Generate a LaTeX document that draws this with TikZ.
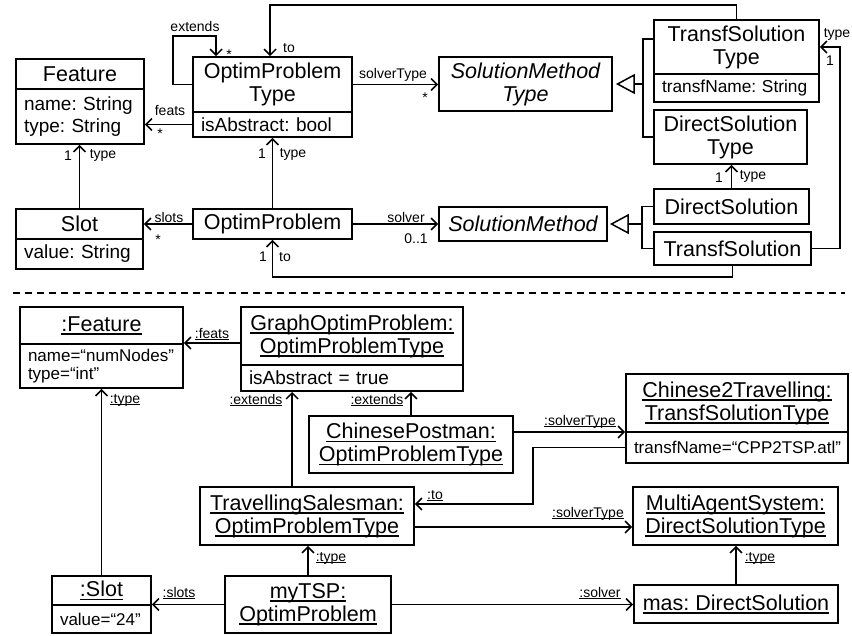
\documentclass[tikz,border=0pt]{standalone}
\usepackage{fontspec}
\setmainfont{Liberation Sans}
\usetikzlibrary{arrows.meta}

% font sizes (1pt = 1 unit of the drawing)
\newcommand\umlTitle{\fontsize{21.5}{23}\selectfont}
\newcommand\umlAttr{\fontsize{19}{22}\selectfont}
\newcommand\umlAttrS{\fontsize{17}{18}\selectfont}
\newcommand\umlLab{\fontsize{14}{16}\selectfont}

% underline with a rule scaled to the current font
\newcommand\umlUl[1]{\setbox0\hbox{#1}\rlap{\vrule width\wd0 height -0.1em depth 0.165em}\box0}

% \ubox[options]{name}{x1}{y1}{x2}{y2}{text}: a box given by its corners
\newcommand\ubox[7][]{%
  \pgfmathsetmacro\uboxw{#5-#3}%
  \pgfmathsetmacro\uboxh{#6-#4}%
  \pgfmathsetmacro\uboxt{#5-#3-16}%
  \node[box,minimum width=\uboxw pt,minimum height=\uboxh pt,#1] (#2) at ({(#3+#5)/2},{(#4+#6)/2}) {#7};}

\tikzset{
  box/.style={draw, line width=1.8pt, inner sep=0pt, align=center, font=\umlTitle},
  attr/.style={align=left, text width=\uboxt pt, inner xsep=8pt, font=\umlAttr},
  lab/.style={font=\umlLab, inner sep=0pt, anchor=base},
  assoc/.style={line width=1.5pt, -{Straight Barb[length=6pt,width=12pt]}},
  tree/.style={line width=1.5pt},
  gen/.style={line width=1.5pt, -{Triangle[open,length=19pt,width=20pt]}},
  sep/.style={line width=1.3pt, dash pattern=on 7pt off 5pt},
}

\begin{document}
\frenchspacing
\begin{tikzpicture}[x=1pt,y=-1pt]
\useasboundingbox (0,0) rectangle (852,635);

% ---------------- metamodel ----------------
\ubox{feath}{16}{59}{144}{89}{Feature}
\ubox[attr]{feata}{16}{89}{144}{144}{name: String\\type: String}
\ubox{opth}{193}{57}{352}{112}{OptimProblem\\Type}
\ubox[attr]{opta}{193}{112}{352}{137}{isAbstract: bool}
\ubox[font=\umlTitle\itshape]{smt}{439}{57}{612}{111}{SolutionMethod\\Type}
\ubox{tsth}{654}{20}{819}{74}{TransfSolution\\Type}
\ubox[attr,font=\fontsize{17.3}{20}\selectfont]{tsta}{654}{74}{819}{102}{transfName: String}
\ubox{dst}{654}{110}{807}{164}{DirectSolution\\Type}
\ubox{sloth}{16}{209}{143}{239}{Slot}
\ubox[attr]{slota}{16}{239}{143}{269}{value: String}
\ubox{op}{193}{209}{352}{239}{OptimProblem}
\ubox[font=\umlTitle\itshape]{sm}{439}{207}{607}{241}{SolutionMethod}
\ubox{ds}{654}{189}{809}{224}{DirectSolution}
\ubox{ts}{654}{232}{811}{265}{TransfSolution}

% associations
\draw[assoc] (opth.west) -| (173,36) -| ([xshift=24pt]opth.north west);
\node[lab] (lext) at (195,31.5) {extends};
\node[lab] (lextm) at (229,59) {*};

\draw[assoc] (tsth.north) -- ++(0,-14) -| ([xshift=78pt]opth.north west);
\node[lab] (lto1) at (289,52) {to};

\draw[assoc] (opth.east) -- (opth.east -| smt.west);
\node[lab] (lst) at (393,78) {solverType};
\node[lab] (lstm) at (425,102) {*};

\draw[assoc] (opta.west) -- (opta.west -| feata.east);
\node[lab] (lfeats) at (170,115) {feats};
\node[lab] (lfeatsm) at (160,138) {*};

\draw[assoc] (ts.east) -- ++(28,0) |- (tsth.east);
\node[lab] (ltt) at (837,37) {type};
\node[lab] (ltt1) at (830,65) {1};

\draw[assoc] (ds.north) -- (ds.north |- dst.south);
\node[lab] (ldt1) at (719,182) {1};
\node[lab] (ldt) at (753,179) {type};

\draw[assoc] (op.north) -- (op.north |- opta.south);
\node[lab] (lot1) at (262,158) {1};
\node[lab] (lot) at (293,157) {type};

\draw[assoc] (sloth.north) -- (sloth.north |- feata.south);
\node[lab] (lsf1) at (68,160) {1};
\node[lab] (lsf) at (103,158) {type};

\draw[assoc] (op.west) -- (op.west -| sloth.east);
\node[lab] (lslots) at (169,222) {slots};
\node[lab] (lslotsm) at (158,244) {*};

\draw[assoc] (op.east) -- (op.east -| sm.west);
\node[lab] (lsolver) at (406,222) {solver};
\node[lab] (lsolverm) at (416,243) {0..1};

\draw[assoc] (ts.south) -- ++(0,11) -| (op.south);
\node[lab] (lto21) at (263,261) {1};
\node[lab] (lto2) at (285,261) {to};

% generalizations
\coordinate (gtop) at (643,84);
\draw[tree] ([yshift=8pt]tsth.west) -| (gtop);
\draw[tree] (dst.west) -| (gtop);
\draw[gen] (gtop) -- ([xshift=3pt]smt.east);

\coordinate (gbot) at (642,224);
\draw[tree] (ds.west) -| (gbot);
\draw[tree] (ts.west) -| (gbot);
\draw[gen] (gbot) -- ([xshift=2pt]sm.east);

% separator between the metamodel and the model
\draw[sep] (13,293) -- (845,293);

% ---------------- model ----------------
\ubox{fth}{20}{307}{183}{344}{\umlUl{:Feature}}
\ubox[attr,font=\umlAttrS]{fta}{20}{344}{183}{388}{name=“numNodes”\\type=“int”}
\ubox{goph}{241}{307}{463}{365}{\umlUl{GraphOptimProblem:}\\\umlUl{OptimProblemType}}
\ubox[attr]{gopa}{241}{365}{463}{391}{isAbstract = true}
\ubox{cp}{309}{416}{513}{473}{\umlUl{ChinesePostman:}\\\umlUl{OptimProblemType}}
\ubox{cth}{626}{374}{848}{432}{\umlUl{Chinese2Travelling:}\\\umlUl{TransfSolutionType}}
\ubox[attr,font=\umlAttrS]{cta}{626}{432}{848}{463}{transfName=“CPP2TSP.atl”}
\ubox{tsp}{200}{487}{414}{545}{\umlUl{TravellingSalesman:}\\\umlUl{OptimProblemType}}
\ubox{mast}{633}{487}{838}{545}{\umlUl{MultiAgentSystem:}\\\umlUl{DirectSolutionType}}
\ubox{mas}{634}{585}{838}{623}{\umlUl{mas: DirectSolution}}
\ubox{my}{225}{576}{391}{633}{\umlUl{myTSP:}\\\umlUl{OptimProblem}}
\ubox{slh}{52}{576}{151}{605}{\umlUl{:Slot}}
\ubox[attr,font=\umlAttrS]{sla}{52}{605}{151}{633}{value=“24”}

\draw[assoc] ([yshift=-7pt]goph.west) -- ([yshift=-7pt]goph.west -| fth.east);
\node[lab] (mfeats) at (212,338) {\umlUl{:feats}};

\draw[assoc] (slh.north) -- (slh.north |- fta.south);
\node[lab] (mtype1) at (125,403) {\umlUl{:type}};

\draw[assoc] ([xshift=93pt]tsp.north west) -- ([xshift=93pt]tsp.north west |- gopa.south);
\node[lab] (mext1) at (256,404) {\umlUl{:extends}};

\draw[assoc] (cp.north) -- (cp.north |- gopa.south);
\node[lab] (mext2) at (377,404) {\umlUl{:extends}};

\draw[assoc] ([yshift=12.5pt]cp.east) -- ([yshift=12.5pt]cp.east -| cth.west);
\node[lab] (mst1) at (580,425) {\umlUl{:solverType}};

\draw[assoc] (cta.west) -| (533,504) -- ([yshift=12pt]tsp.east);
\node[lab] (mto) at (435,499) {\umlUl{:to}};

\draw[assoc] ([yshift=-11pt]tsp.east) -- ([yshift=-11pt]tsp.east -| mast.west);
\node[lab] (mst2) at (588,517) {\umlUl{:solverType}};

\draw[assoc] (mas.north) -- (mas.north |- mast.south);
\node[lab] (mtype2) at (760,561) {\umlUl{:type}};

\draw[assoc] (my.east) -- (my.east -| mas.west);
\node[lab] (msolver) at (600,597) {\umlUl{:solver}};

\draw[assoc] (my.north) -- (my.north |- tsp.south);
\node[lab] (mtype3) at (331,561) {\umlUl{:type}};

\draw[assoc] (my.west) -- (my.west -| slh.east);
\node[lab] (mslots) at (179,597) {\umlUl{:slots}};

\end{tikzpicture}
\end{document}
